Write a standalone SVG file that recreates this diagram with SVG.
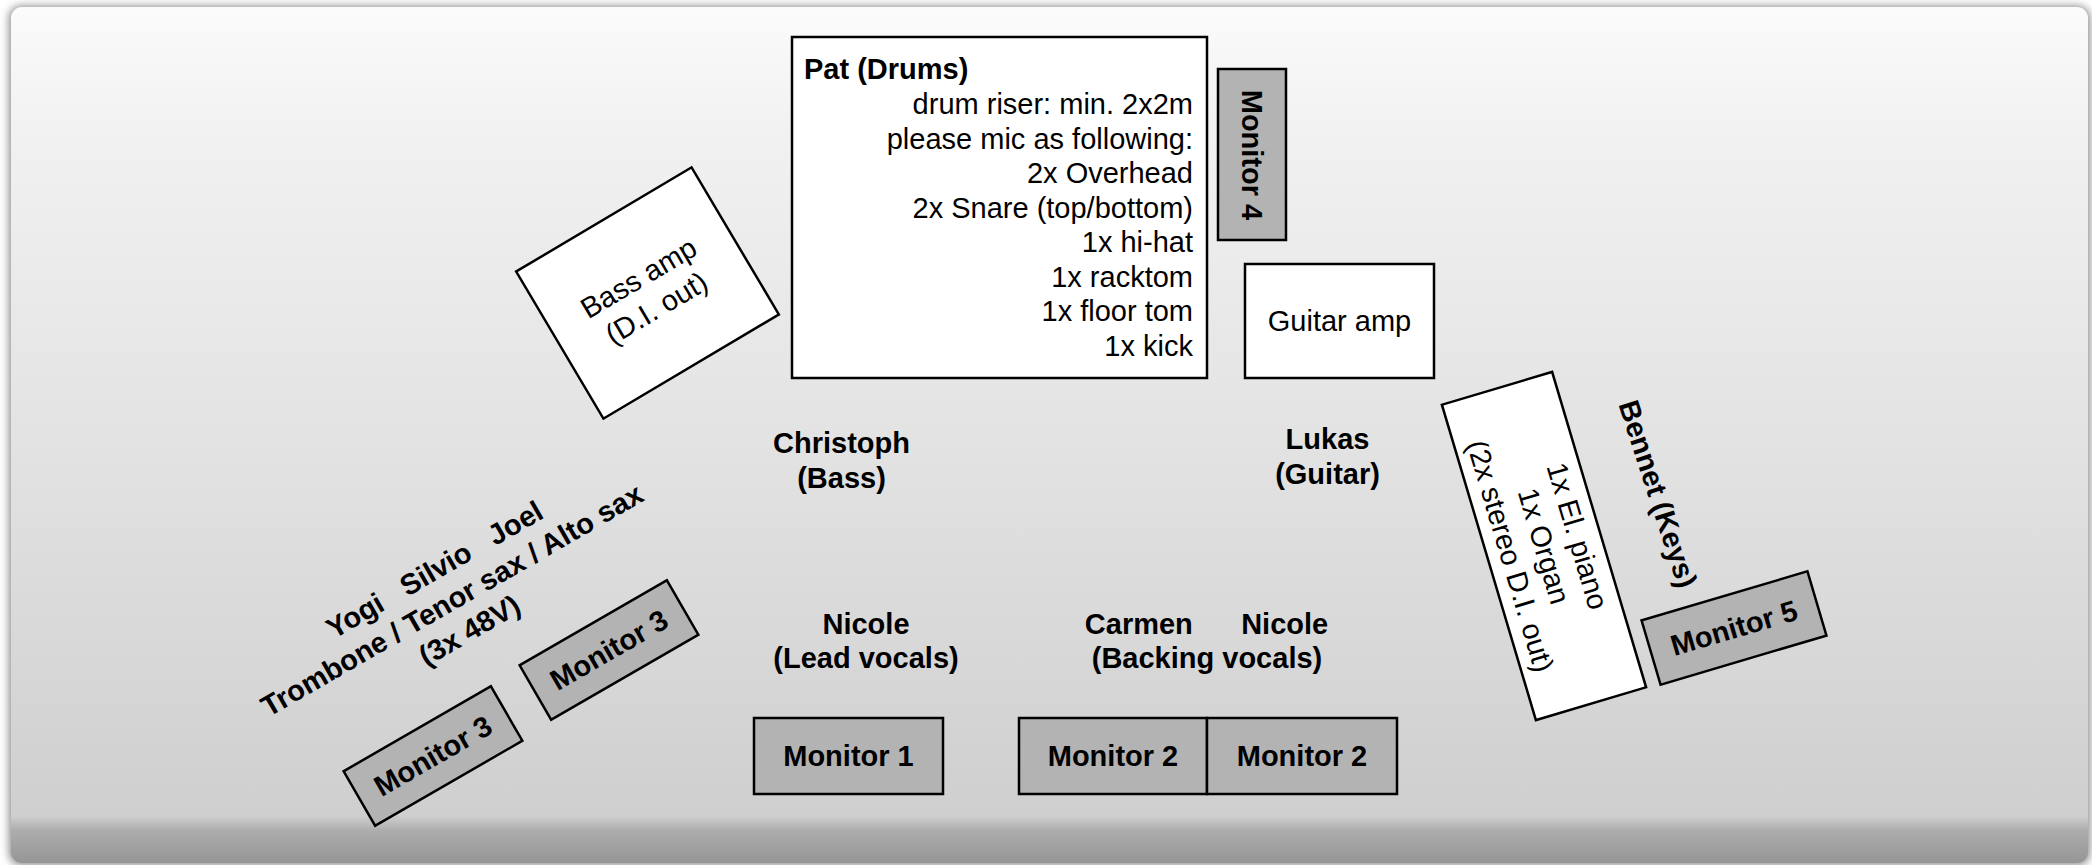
<svg xmlns="http://www.w3.org/2000/svg" width="2092" height="865" viewBox="0 0 2092 865">
<defs>
<linearGradient id="bg" x1="0" y1="0" x2="0" y2="1">
<stop offset="0" stop-color="#fbfbfb"/>
<stop offset="0.15" stop-color="#f1f1f1"/>
<stop offset="0.5" stop-color="#e3e3e3"/>
<stop offset="0.945" stop-color="#cfcfcf"/>
<stop offset="0.962" stop-color="#adadad"/>
<stop offset="1" stop-color="#959595"/>
</linearGradient>
<filter id="sh" x="-5%" y="-5%" width="110%" height="110%">
<feGaussianBlur stdDeviation="4"/>
</filter>
</defs>
<style>
.box{fill:#ffffff;stroke:#000;stroke-width:2.5}
.mon{fill:#b3b3b3;stroke:#000;stroke-width:2.5}
.t{font-family:"Liberation Sans",Arial,Helvetica,sans-serif;font-size:29px;fill:#000}
.b{font-family:"Liberation Sans",Arial,Helvetica,sans-serif;font-size:29px;font-weight:bold;fill:#000}
.c{text-anchor:middle}
.r{text-anchor:end}
.pre{white-space:pre}
</style>
<rect x="0" y="0" width="2092" height="865" fill="#ffffff"/>
<rect x="9" y="6" width="2081" height="859" rx="12" fill="#8a8a8a" filter="url(#sh)"/>
<rect x="11" y="7" width="2077" height="856" rx="11" fill="url(#bg)"/>

<g id="drums">
<rect class="box" x="792" y="37" width="415" height="341"/>
<text class="b" x="804" y="79">Pat (Drums)</text>
<text class="t r" x="1193" y="114">drum riser: min. 2x2m</text>
<text class="t r" x="1193" y="148.5">please mic as following:</text>
<text class="t r" x="1193" y="183">2x Overhead</text>
<text class="t r" x="1193" y="217.5">2x Snare (top/bottom)</text>
<text class="t r" x="1193" y="252">1x hi-hat</text>
<text class="t r" x="1193" y="286.5">1x racktom</text>
<text class="t r" x="1193" y="321">1x floor tom</text>
<text class="t r" x="1193" y="355.5">1x kick</text>
</g>

<g id="monitor4">
<rect class="mon" x="1218" y="69" width="68" height="171"/>
<text class="b c" transform="translate(1252,155) rotate(90)" x="0" y="10">Monitor 4</text>
</g>

<g id="guitaramp">
<rect class="box" x="1245" y="264" width="189" height="114"/>
<text class="t c" x="1339.5" y="331">Guitar amp</text>
</g>

<g id="bassamp" transform="translate(647.5,293) rotate(-30.7)">
<rect class="box" x="-102" y="-85.5" width="204" height="171"/>
<text class="t c" x="0" y="-7.5">Bass amp</text>
<text class="t c" x="0" y="27.5">(D.I. out)</text>
</g>

<g id="christoph">
<text class="b c" x="841.5" y="453">Christoph</text>
<text class="b c" x="841.5" y="488">(Bass)</text>
</g>

<g id="lukas">
<text class="b c" x="1327.5" y="449">Lukas</text>
<text class="b c" x="1327.5" y="484">(Guitar)</text>
</g>

<g id="keys" transform="translate(1544,546) rotate(-16.6)">
<rect class="box" x="-57.5" y="-164.5" width="115" height="329"/>
<g transform="rotate(90)">
<text class="t c" x="0" y="-25">1x El. piano</text>
<text class="t c" x="0" y="10">1x Organ</text>
<text class="t c" x="0" y="45">(2x stereo D.I. out)</text>
</g>
</g>

<g id="bennet">
<text class="b c" transform="translate(1658,494) rotate(72)" x="0" y="10">Bennet (Keys)</text>
</g>

<g id="monitor5" transform="translate(1734,628) rotate(-16.5)">
<rect class="mon" x="-86.5" y="-33.5" width="173" height="67"/>
<text class="b c" x="0" y="10">Monitor 5</text>
</g>

<g id="horns" transform="translate(452,600) rotate(-30)">
<text class="b c pre" x="0" y="-25">Yogi   Silvio   Joel</text>
<text class="b c" x="0" y="10">Trombone / Tenor sax / Alto sax</text>
<text class="b c" x="0" y="45">(3x 48V)</text>
</g>

<g id="monitor3a" transform="translate(609,650) rotate(-30)">
<rect class="mon" x="-85" y="-31.5" width="170" height="63"/>
<text class="b c" x="0" y="10">Monitor 3</text>
</g>

<g id="monitor3b" transform="translate(433,756) rotate(-30)">
<rect class="mon" x="-85" y="-31.5" width="170" height="63"/>
<text class="b c" x="0" y="10">Monitor 3</text>
</g>

<g id="leadvocals">
<text class="b c" x="866" y="634">Nicole</text>
<text class="b c" x="866" y="668">(Lead vocals)</text>
</g>

<g id="backingvocals">
<text class="b c pre" x="1206.5" y="634">Carmen      Nicole</text>
<text class="b c" x="1207" y="668">(Backing vocals)</text>
</g>

<g id="monitor1">
<rect class="mon" x="754" y="718" width="189" height="76"/>
<text class="b c" x="848.5" y="766">Monitor 1</text>
</g>

<g id="monitor2a">
<rect class="mon" x="1019" y="718" width="188" height="76"/>
<text class="b c" x="1113" y="766">Monitor 2</text>
</g>

<g id="monitor2b">
<rect class="mon" x="1207" y="718" width="190" height="76"/>
<text class="b c" x="1302" y="766">Monitor 2</text>
</g>

<g id="connectors"></g>
</svg>
